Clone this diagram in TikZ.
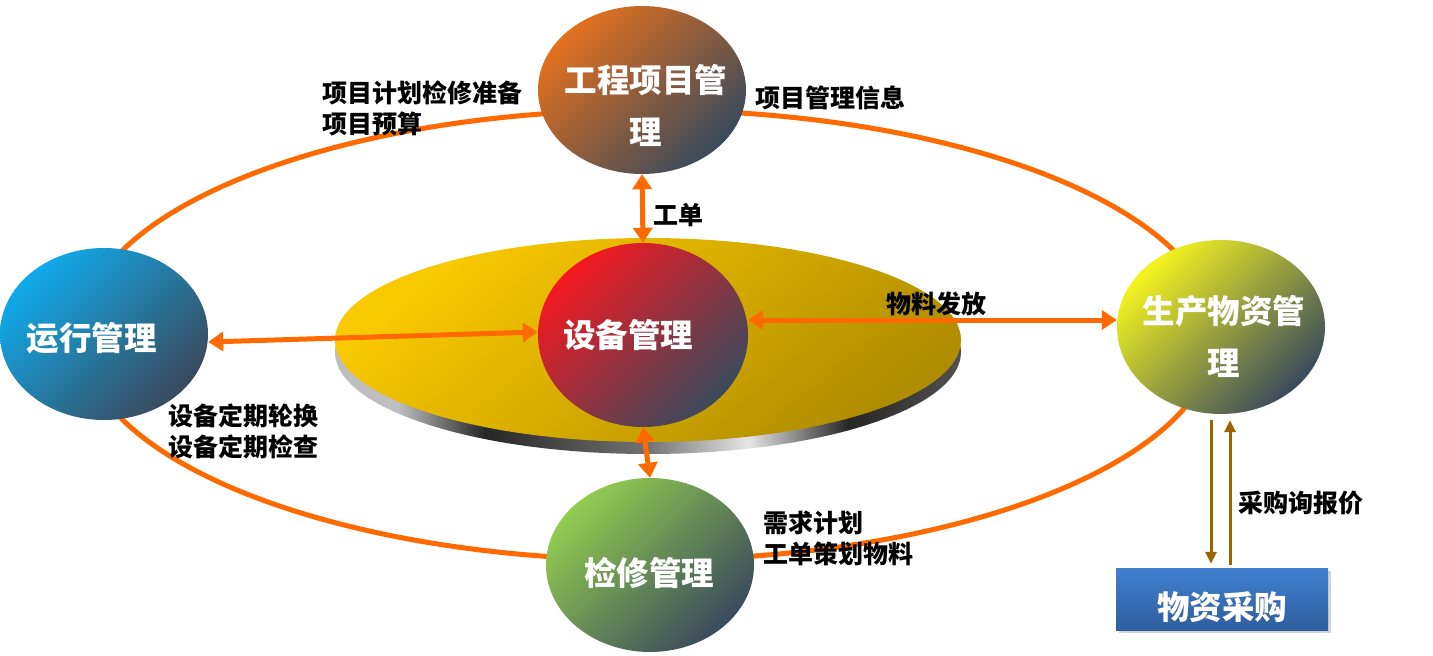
\documentclass[tikz,border=0pt]{standalone}
\usepackage{fontspec}
\setmainfont{Noto Sans CJK SC}
\usetikzlibrary{arrows.meta,shapes.geometric,shadows}

\definecolor{ringorange}{HTML}{FF6A00}
\definecolor{slate}{HTML}{3A4A5C}
\definecolor{brownline}{HTML}{9A6400}
\definecolor{topc}{HTML}{E2701E}
\definecolor{midc}{HTML}{F41820}
\definecolor{leftc}{HTML}{10AAEA}
\definecolor{rightc}{HTML}{F4F420}
\definecolor{botc}{HTML}{92CC50}
\pgfdeclarehorizontalshading{metal}{100bp}{color(0bp)=(black!30); color(30bp)=(black!25);
  color(37bp)=(black!85); color(50bp)=(black!55); color(58bp)=(black!10); color(66bp)=(black!85);
  color(82bp)=(black!55); color(92bp)=(black!10); color(100bp)=(black!45)}

\begin{document}
\begin{tikzpicture}[x=1pt, y=-1pt,
  ball/.style={ellipse, inner sep=0pt, minimum width=208pt, minimum height=174pt,
    shading=axis, top color=#1, middle color=#1!45!slate, bottom color=slate, shading angle=45},
  balltext/.style={text=white, align=center, font=\bfseries\fontsize{32.5}{52}\selectfont},
  link/.style={ringorange, line width=5pt, <->, >={Triangle[width=19pt,length=15pt]}},
  buy/.style={brownline, line width=3pt, ->, >={Triangle[width=11pt,length=12pt]}},
  note/.style={anchor=west, align=left, font=\bfseries\fontsize{25}{31}\selectfont}]
  \useasboundingbox (0,0) rectangle (1433,656);
  % outer ring
  \draw[ringorange, line width=5pt] (648,335) ellipse [x radius=567pt, y radius=225pt];
  % yellow disk with metal rim
  \node[ellipse, minimum width=626pt, minimum height=204pt, shading=metal] (diskbase) at (648,352) {};
  \node[ellipse, minimum width=626pt, minimum height=204pt, shading=axis,
    top color={rgb,255:red,250;green,202;blue,0}, bottom color={rgb,255:red,176;green,140;blue,0},
    shading angle=40] (disk) at (648,340) {};
  % modules
  \node[ball=topc, minimum height=168pt] (proj) at (642,90) {};
  \node[ball=midc, minimum width=210pt, minimum height=184pt] (equip) at (643,335) {};
  \node[ball=leftc, minimum height=172pt] (oper) at (104,334) {};
  \node[ball=rightc] (mat) at (1221,327) {};
  \node[ball=botc] (maint) at (650,565) {};
  \node[rectangle, minimum width=212pt, minimum height=62pt, drop shadow={opacity=0.35},
    top color={rgb,255:red,64;green,128;blue,208}, bottom color={rgb,255:red,46;green,94;blue,158}] (purch) at (1222,599) {};
  % module names, shifted as printed
  \foreach \n/\dx/\dy/\t in {proj/4/-15/{工程项目管\\理}, equip/-15/0/{设备管理}, oper/-12/-4/{运行管理},
                             mat/3/-9/{生产物资管\\理}, maint/-1/-8/{检修管理}, purch/0/-8/{物资采购}}
    \node[balltext] (\n-name) at ([xshift=\dx pt, yshift=\dy pt]\n.center) {\t};
  % connectors
  \draw[link] ([yshift=-8pt]oper.east) -- ([yshift=3pt]equip.west);
  \draw[link] ([yshift=15pt]equip.east) -- ([yshift=15pt]equip.east -| mat.west);
  \draw[link] (proj.south) -- (equip.north);
  \draw[link] (equip.south) -- (maint.north);
  \draw[buy, shorten <=6pt, shorten >=4pt] ([xshift=-10pt]mat.south) -- ([xshift=-10pt]mat.south |- purch.north);
  \draw[buy, shorten <=3pt, shorten >=6pt] ([xshift=9pt]mat.south |- purch.north) -- ([xshift=9pt]mat.south);
  % labels
  \node[note] (plan) at (319,108) {项目计划检修准备\\项目预算};
  \node[note] (info) at (752,98) {项目管理信息};
  \node[note] (order) at (650,215) {工单};
  \node[note] (issue) at (883,304) {物料发放};
  \node[note] (period) at (165,431) {设备定期轮换\\设备定期检查};
  \node[note] (demand) at (760,538) {需求计划\\工单策划物料};
  \node[note] (quote) at (1235,503) {采购询报价};
\end{tikzpicture}
\end{document}
